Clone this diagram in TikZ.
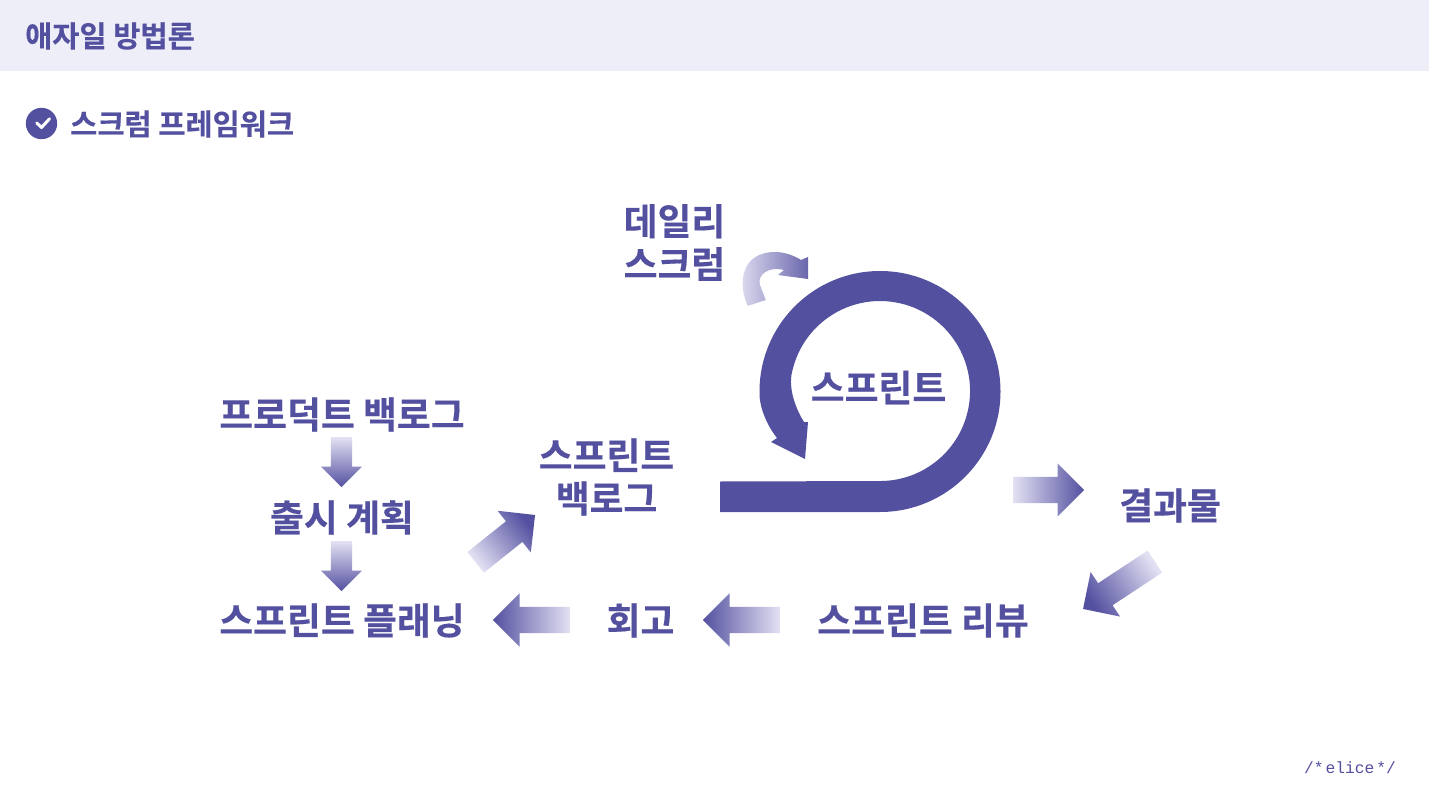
\documentclass[tikz,border=0pt]{standalone}
\usepackage{fontspec}
\usetikzlibrary{shapes.arrows}
\setmainfont{Noto Sans CJK KR}[BoldFont={Noto Sans CJK KR Bold},BoldFeatures={FakeBold=0.35}]
\setmonofont{Liberation Mono}
\definecolor{brand}{HTML}{5450A0}
\definecolor{pale}{HTML}{E2E1F3}
\definecolor{band}{HTML}{EEEEF9}
\tikzset{
  x=1pt,y=-1pt,
  label text/.style={text=brand,inner sep=0pt,align=center,font=\fontsize{36.8}{43}\selectfont\bfseries},
  head text/.style={text=brand,inner sep=0pt,anchor=west,font=\fontsize{29.5}{35}\selectfont\bfseries},
  block arrow/.style={single arrow,draw=none,anchor=tail,inner xsep=0pt,
    left color=pale,right color=brand,shading angle=#1,
    single arrow head indent=0pt},
  small block/.style={block arrow=#1,inner ysep=10.5pt,minimum height=50pt,minimum width=41pt,single arrow head extend=10pt},
  big block/.style={block arrow=#1,inner ysep=13pt,minimum height=77pt,minimum width=53pt,single arrow head extend=13.5pt},
}
\begin{document}
\begin{tikzpicture}
\useasboundingbox (0,0) rectangle (1429,797);
\fill[white] (0,0) rectangle (1429,797);
\fill[band] (0,0) rectangle (1429,71);

\node[head text] (title) at (25,36) {애자일 방법론};
\fill[brand] (41.5,123.5) circle[radius=15.7pt];
\draw[white,line width=3pt,line cap=round,line join=round] (36.8,123) -- (41.5,127.5) -- (49.5,118.8);
\node[head text] (subtitle) at (70,124) {스크럼 프레임워크};

% main sprint loop
\fill[brand] (720,512) -- (880,512) arc[start angle=-90,end angle=180,radius=120.5pt]
  .. controls (759,406) and (766,424) .. (777,438) -- (771,442) -- (805,459) -- (808,422) -- (804,422)
  .. controls (797,411) and (789,392) .. (791.4,375.4)
  arc[start angle=170,end angle=-90,radius=90pt] -- (720,481.5) -- cycle;

% small curved arrow
\shade[left color=pale,right color=brand!85!pale]
  (747.7,306) .. controls (737,282) and (742,252) .. (775,252)
  .. controls (785,252) and (795,256) .. (801,260) -- (808,257) -- (808,279) -- (778,275) -- (784,270)
  .. controls (768,266) and (757,275) .. (760,285) -- (765.7,300) -- cycle;

\node[label text] (daily) at (674.5,242.5) {데일리\\스크럼};
\node[label text] (sprint) at (878.5,387.5) {스프린트};
\node[label text] (pb) at (342,414.5) {프로덕트 백로그};
\node[label text] (rp) at (342,517.5) {출시 계획};
\node[label text] (sp) at (342,620.5) {스프린트 플래닝};
\node[label text] (sb) at (606.5,477) {스프린트\\백로그};
\node[label text] (result) at (1170,505.5) {결과물};
\node[label text] (retro) at (640.5,620.5) {회고};
\node[label text] (review) at (923,620.5) {스프린트 리뷰};

\node[small block=0,rotate=-90] (a1) at (341.5,437) {};
\node[small block=0,rotate=-90] (a2) at (341.5,541) {};
\node[big block=270,rotate=180] (a3) at (570,620) {};
\node[big block=270,rotate=180] (a4) at (780,620) {};
\node[big block=90,minimum height=71pt] (a5) at (1013,490) {};
\node[block arrow=128.6,rotate=38.6,inner ysep=13pt,minimum height=76pt,minimum width=53pt,single arrow head extend=13.5pt] (a6) at (475.5,562.5) {};
\node[block arrow=303.4,rotate=213.4,inner ysep=13pt,minimum height=86pt,minimum width=53pt,single arrow head extend=13.5pt] (a7) at (1155,561.5) {};

\node[text=brand,inner sep=0pt,font=\fontsize{16.3}{18}\selectfont\ttfamily] (logo) at (1350,768) {/*\hspace{2pt}elice\hspace{2pt}*/};
\end{tikzpicture}
\end{document}
